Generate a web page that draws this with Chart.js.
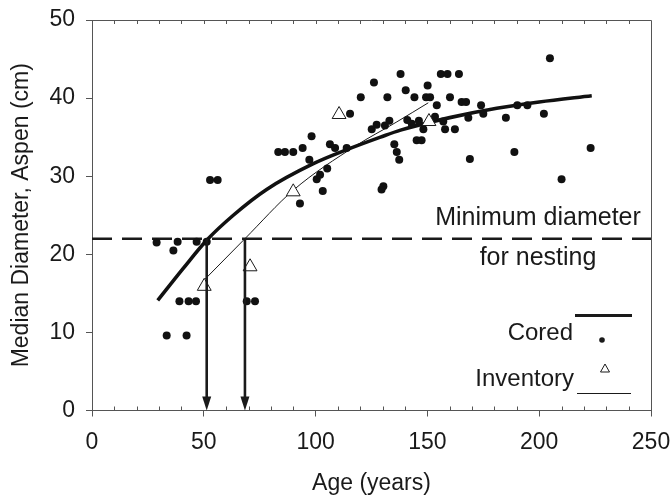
<!DOCTYPE html>
<html>
<head>
<meta charset="utf-8">
<script src="https://cdn.jsdelivr.net/npm/chart.js@4"></script>
<style>
html,body{margin:0;padding:0;background:#fff;}
#wrap{width:672px;height:498px;}
</style>
</head>
<body>
<div id="wrap"><canvas id="c" width="672" height="498"></canvas></div>
<script>
// ---- data ----
const coredAge = [28.9,36.4,38.3,46.8,51.3,33.4,42.3,39.1,43.2,46.5,69.2,72.9,52.8,56.2,
  83.3,86.3,90.0,94.2,98.2,97.2,93.0,100.5,102.0,103.2,105.2,106.4,108.7,113.9,115.4,120.2,
  125.1,127.3,126.1,129.5,130.3,131.0,133.0,132.1,135.2,136.3,137.4,138.0,140.3,141.0,143.0,
  144.2,145.2,147.4,146.2,148.2,149.4,151.2,150.1,153.4,154.2,156.0,159.0,164.1,157.1,157.9,
  162.3,160.1,165.3,167.3,168.3,169.0,174.0,175.0,185.1,188.9,190.2,194.7,202.1,204.8,210.0,223.0];
const coredDia = [21.5,20.5,21.6,21.6,21.6,9.6,9.6,14.0,14.0,14.0,14.0,14.0,29.5,29.5,
  33.1,33.1,33.1,33.6,35.1,32.1,26.5,29.6,30.2,28.1,31.0,34.1,33.6,33.6,38.0,40.1,
  36.0,36.6,42.0,28.3,28.7,36.5,37.1,40.1,34.1,33.1,32.1,43.1,41.0,37.2,36.7,
  40.1,34.6,34.6,37.1,36.0,40.1,40.1,41.6,37.6,39.1,43.1,43.1,43.1,37.0,36.0,
  36.0,40.1,39.5,39.5,37.5,32.2,39.1,38.0,37.5,33.1,39.1,39.1,38.0,45.1,29.6,33.6];

const invAge = [50.2,70.7,90.0,110.5,150.7];
const invDia = [15.9,18.4,28.0,37.9,37.0];

const coredFitAge = [29.4,40.8,51.3,63.2,78.1,99,114,129,138,160,181,200,223.5];
const coredFitDia = [14.1,18.2,21.8,25.0,28.3,31.6,33.4,35.0,35.9,37.5,38.7,39.5,40.3];

const invFitAge = [50.5,68.4,90,118,136,150.4];
const invFitDia = [16.8,22.0,28.2,33.9,36.9,39.4];

const minDiameter = 22;
const arrowAges = [51.3, 68.4];

const xTicks = [0,50,100,150,200,250];
const yTicks = [0,10,20,30,40,50];

const FONT = '"Liberation Sans", Arial, Helvetica, sans-serif';
const INK = '#1a1a1a';
const AX = '#555';

const zip = (a,b) => a.map((v,i)=>({x:v,y:b[i]}));

const extras = {
  id:'extras',
  afterDatasetsDraw(chart){
    const {ctx, chartArea:ca, scales:{x,y}} = chart;
    ctx.save();
    // frame top/right
    ctx.strokeStyle = AX; ctx.lineWidth = 1;
    ctx.beginPath();
    ctx.moveTo(ca.left, ca.top+0.5); ctx.lineTo(ca.right+0.5, ca.top+0.5); ctx.lineTo(ca.right+0.5, ca.bottom);
    ctx.stroke();
    // minor ticks inward (bottom and top)
    ctx.beginPath();
    for (let v=10; v<250; v+=10){
      const px = Math.round(x.getPixelForValue(v))+0.5;
      if (v%50!==0){ ctx.moveTo(px, ca.bottom); ctx.lineTo(px, ca.bottom-4); }
      ctx.moveTo(px, ca.top); ctx.lineTo(px, ca.top+4);
    }
    ctx.stroke();
    // arrows
    ctx.strokeStyle = INK; ctx.fillStyle = INK; ctx.lineWidth = 2.6;
    arrowAges.forEach(a=>{
      const px = x.getPixelForValue(a);
      const y0 = y.getPixelForValue(minDiameter);
      const y1 = y.getPixelForValue(0);
      ctx.beginPath(); ctx.moveTo(px, y0); ctx.lineTo(px, y1-10); ctx.stroke();
      ctx.beginPath(); ctx.moveTo(px-4.5, y1-14); ctx.lineTo(px+4.5, y1-14); ctx.lineTo(px, y1); ctx.closePath(); ctx.fill();
    });
    // annotation text
    ctx.fillStyle = INK;
    ctx.font = '25px ' + FONT;
    ctx.textAlign = 'center'; ctx.textBaseline = 'middle';
    ctx.fillText('Minimum diameter', 538, 218);
    ctx.fillText('for nesting', 538, 258);
    // legend
    ctx.font = '24px ' + FONT;
    ctx.textAlign = 'right';
    ctx.fillText('Cored', 573, 333);
    ctx.fillText('Inventory', 574, 379);
    ctx.lineWidth = 2.8;
    ctx.beginPath(); ctx.moveTo(575, 315.5); ctx.lineTo(632, 315.5); ctx.stroke();
    ctx.lineWidth = 1.2;
    ctx.beginPath(); ctx.moveTo(577, 393.5); ctx.lineTo(631, 393.5); ctx.stroke();
    ctx.beginPath(); ctx.arc(602, 340, 2.8, 0, Math.PI*2); ctx.fill();
    ctx.lineWidth = 1;
    ctx.beginPath(); ctx.moveTo(605, 364); ctx.lineTo(609.5, 372); ctx.lineTo(600.5, 372); ctx.closePath(); ctx.stroke();
    ctx.restore();
  }
};

new Chart(document.getElementById('c'), {
  data: {
    datasets: [
      { type:'line', label:'min', data:[{x:0,y:minDiameter},{x:250,y:minDiameter}],
        borderColor:INK, borderWidth:2.6, borderDash:[20,10], pointRadius:0, order:5 },
      { type:'line', label:'Inventory fit', data: zip(invFitAge, invFitDia),
        borderColor:INK, borderWidth:1, pointRadius:0, cubicInterpolationMode:'monotone', order:4 },
      { type:'line', label:'Cored fit', data: zip(coredFitAge, coredFitDia),
        borderColor:'#111', borderWidth:3.6, pointRadius:0, cubicInterpolationMode:'monotone', order:3 },
      { type:'scatter', label:'Cored', data: zip(coredAge, coredDia),
        backgroundColor:'#111', borderColor:'#111', pointRadius:4, borderWidth:0, order:2 },
      { type:'scatter', label:'Inventory', data: zip(invAge, invDia),
        pointStyle:'triangle', pointRadius:8, backgroundColor:'#fff', borderColor:INK, borderWidth:1, order:1 }
    ]
  },
  options: {
    responsive:false, animation:false,
    layout:{ padding:{ top:20, right:21, left:0, bottom:0 } },
    plugins:{ legend:{display:false}, tooltip:{enabled:false} },
    scales:{
      x:{ type:'linear', min:0, max:250,
        afterFit(s){ s.height = 87.5; s.paddingLeft = 0; s.paddingRight = 0; },
        afterBuildTicks(s){ s.ticks = []; for(let v=0; v<=250; v+=10) s.ticks.push({value:v}); },
        ticks:{ autoSkip:false, maxRotation:0, padding:12, color:INK, font:{family:FONT, size:23},
          callback:(v)=> xTicks.includes(v) ? String(v) : '' },
        grid:{ drawOnChartArea:false, drawTicks:true, tickLength:6,
          color:(c)=> (c.tick && xTicks.includes(c.tick.value)) ? AX : 'rgba(0,0,0,0)' },
        border:{ display:true, color:AX, width:1 },
        title:{ display:true, text:'Age (years)', color:INK, font:{family:FONT, size:23}, padding:{top:0,bottom:1} }
      },
      y:{ type:'linear', min:0, max:50,
        afterFit(s){ s.width = 92; s.paddingTop = 0; s.paddingBottom = 0; },
        afterBuildTicks(s){ s.ticks = yTicks.map(v=>({value:v})); },
        ticks:{ padding:11, color:INK, font:{family:FONT, size:23} },
        grid:{ drawOnChartArea:false, drawTicks:true, tickLength:6, color:AX },
        border:{ display:true, color:AX, width:1 },
        title:{ display:true, text:'Median Diameter, Aspen (cm)', color:INK, font:{family:FONT, size:23}, padding:{top:8,bottom:0} }
      }
    }
  },
  plugins:[extras]
});
</script>
</body>
</html>
